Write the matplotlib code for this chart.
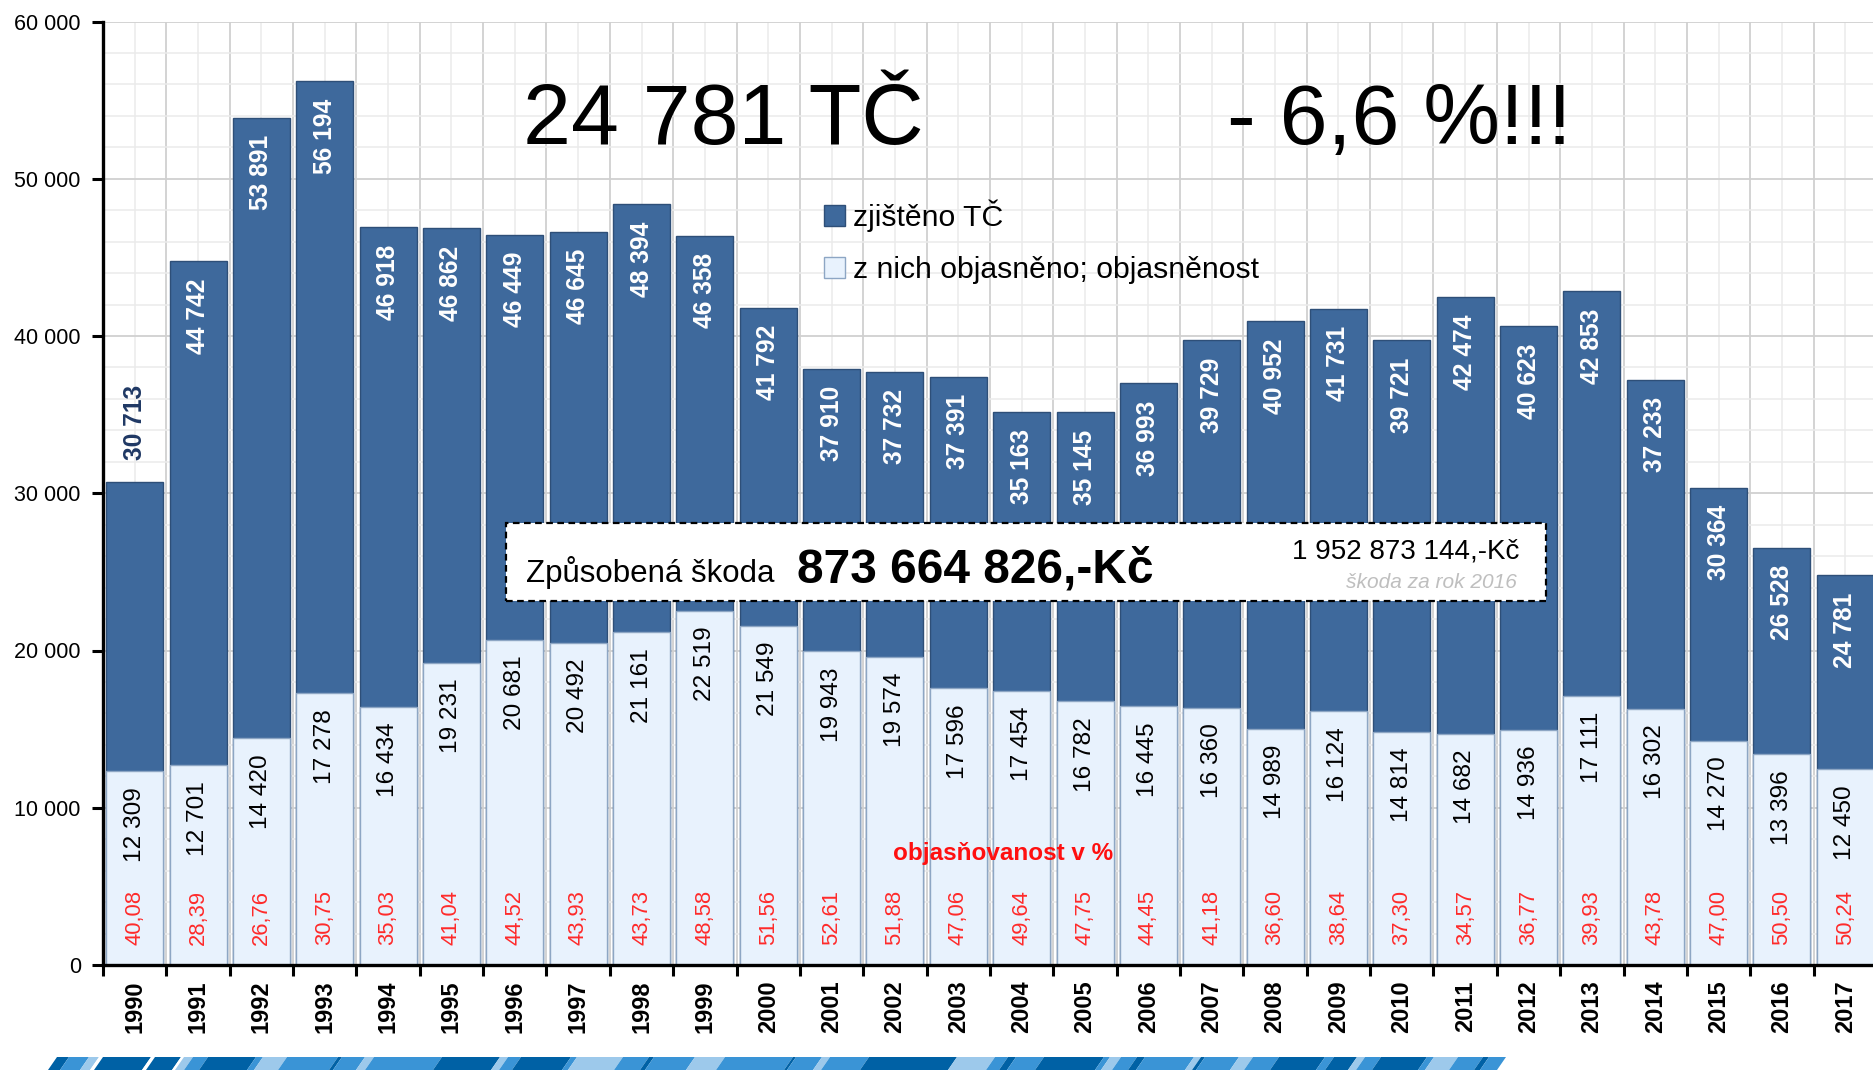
import matplotlib
matplotlib.use("Agg")
import matplotlib.pyplot as plt
from matplotlib.patches import Patch, Rectangle, Polygon
from matplotlib.ticker import MultipleLocator, FuncFormatter

# data
years = list(range(1990, 2018))
zjisteno = [30713, 44742, 53891, 56194, 46918, 46862, 46449, 46645, 48394, 46358,
            41792, 37910, 37732, 37391, 35163, 35145, 36993, 39729, 40952, 41731,
            39721, 42474, 40623, 42853, 37233, 30364, 26528, 24781]
objasneno = [12309, 12701, 14420, 17278, 16434, 19231, 20681, 20492, 21161, 22519,
             21549, 19943, 19574, 17596, 17454, 16782, 16445, 16360, 14989, 16124,
             14814, 14682, 14936, 17111, 16302, 14270, 13396, 12450]
objasnenost = ["40,08", "28,39", "26,76", "30,75", "35,03", "41,04", "44,52", "43,93",
               "43,73", "48,58", "51,56", "52,61", "51,88", "47,06", "49,64", "47,75",
               "44,45", "41,18", "36,60", "38,64", "37,30", "34,57", "36,77", "39,93",
               "43,78", "47,00", "50,50", "50,24"]

# decorative stripe at the bottom of the slide (left edge in px, colour key)
stripe_segments = [(48, 'd'), (60, 'm'), (80, 'l'), (90, 'w'), (94, 'd'), (142, 'w'), (146, 'd'),
                   (172, 'w'), (175, 'l'), (184, 'm'), (199, 'd'), (247, 'm'), (254, 'l'),
                   (278, 'm'), (329, 'd'), (333, 'm'), (356, 'l'), (365, 'm'), (433, 'd'),
                   (491, 'l'), (499, 'm'), (512, 'd'), (562, 'm'), (568, 'l'), (614, 'm'),
                   (640, 'd'), (645, 'm'), (686, 'l'), (716, 'm'), (784, 'd'), (787, 'm'),
                   (813, 'l'), (821, 'm'), (860, 'd'), (948, 'l'), (986, 'm'), (999, 'd'),
                   (1007, 'm'), (1035, 'd'), (1095, 'm'), (1101, 'l'), (1112, 'm'), (1128, 'd'),
                   (1136, 'm'), (1185, 'l'), (1192, 'd'), (1196, 'm'), (1230, 'l'), (1244, 'm'),
                   (1270, 'd'), (1316, 'm'), (1325, 'd'), (1348, 'l'), (1356, 'm'), (1372, 'd'),
                   (1418, 'm'), (1425, 'l'), (1449, 'm'), (1474, 'd'), (1480, 'm'), (1497, None)]
stripe_colors = {'d': '#0061A5', 'm': '#3A94D6', 'l': '#9DC9EB', 'w': 'white'}

dark = '#3E699C'
light = '#E8F2FD'
arial = ['Liberation Sans', 'DejaVu Sans']

W, H = 1873, 1070
fig = plt.figure(figsize=(W / 100, H / 100), dpi=100)
ax = fig.add_axes([103 / W, 1 - 965 / H, (1877 - 103) / W, (965 - 21.5) / H])

x = list(range(len(years)))
ax.bar(x, zjisteno, width=0.9, color=dark, edgecolor='#2E4F78', linewidth=1, zorder=2)
ax.bar(x, objasneno, width=0.9, color=light, edgecolor='#8DA6C4', linewidth=1, zorder=3)

for i in x:
    fmt_t = f"{zjisteno[i]:,}".replace(',', ' ')
    fmt_o = f"{objasneno[i]:,}".replace(',', ' ')
    if i == 0:
        ax.text(i, zjisteno[i] + 1400, fmt_t, rotation=90, ha='center', va='bottom',
                color='#1F3864', fontsize=17.7, fontweight='bold', family=arial, zorder=5)
    else:
        ax.text(i, zjisteno[i] - 1100, fmt_t, rotation=90, ha='center', va='top',
                color='white', fontsize=17.7, fontweight='bold', family=arial, zorder=5)
    ax.text(i, objasneno[i] - 1000, fmt_o, rotation=90, ha='center', va='top',
            color='black', fontsize=17.6, family=arial, zorder=5)
    ax.text(i, 1300, objasnenost[i], rotation=90, ha='center', va='bottom',
            color='#FF2A2A', fontsize=15.8, family=arial, zorder=5)

ax.text(13.7, 7063, 'objasňovanost v %', ha='center', va='center', color='#FF1010',
        fontsize=17.5, fontweight='bold', family=arial, zorder=5)

ax.set_xlim(-0.5, len(years) - 0.5)
ax.set_ylim(0, 60000)

ax.yaxis.set_major_locator(MultipleLocator(10000))
ax.yaxis.set_minor_locator(MultipleLocator(2000))
ax.yaxis.set_major_formatter(FuncFormatter(lambda v, p: f"{int(v):,}".replace(',', ' ')))
ax.set_xticks([k + 0.5 for k in range(-1, len(years))])
ax.set_xticklabels([])
ax.set_xticks(x, minor=True)
ax.set_xticklabels([str(y) for y in years], minor=True, rotation=90,
                   fontsize=17, fontweight='bold', family=arial)

ax.tick_params(axis='both', which='major', length=8, width=2.2, color='black')
ax.tick_params(axis='y', which='major', labelsize=15.5, pad=8)
ax.tick_params(axis='x', which='minor', length=0, pad=11)
ax.tick_params(axis='y', which='minor', length=0)
for lab in ax.get_yticklabels():
    lab.set_family(arial)

ax.grid(which='major', color='#D0D0D0', linewidth=1.3)
ax.grid(which='minor', color='#EBEBEB', linewidth=1.1)
ax.set_axisbelow(True)
for s in ['top', 'right']:
    ax.spines[s].set_visible(False)
for s in ['left', 'bottom']:
    ax.spines[s].set_linewidth(2.4)
    ax.spines[s].set_zorder(6)

handles = [Patch(facecolor=dark, edgecolor='#2E4F78', label='zjištěno TČ'),
           Patch(facecolor=light, edgecolor='#8DA6C4', label='z nich objasněno; objasněnost')]
fig.legend(handles=handles, loc='center left', bbox_to_anchor=(824 / W, 1 - 242 / H),
           frameon=False, prop={'family': arial, 'size': 21.7}, handlelength=0.7,
           handleheight=0.7, handletextpad=0.25, labelspacing=0.8, borderpad=0,
           borderaxespad=0)

# headline numbers
fig.text(723 / W, 1 - 122 / H, '24 781 TČ', ha='center', va='center', fontsize=62, family=arial)
fig.text(1399 / W, 1 - 122 / H, '- 6,6 %!!!', ha='center', va='center', fontsize=62, family=arial)

# damage box
box = Rectangle((506 / W, 1 - 601 / H), (1546 - 506) / W, 78 / H, transform=fig.transFigure,
                facecolor='white', edgecolor='black', linestyle=(0, (3, 2)), linewidth=1.6,
                zorder=10)
fig.add_artist(box)
fig.text(526 / W, 1 - 582 / H, 'Způsobená škoda', ha='left', va='baseline', fontsize=22.5,
         family=arial, zorder=11)
fig.text(797 / W, 1 - 582 / H, '873 664 826,-Kč', ha='left', va='baseline', fontsize=34.5,
         fontweight='bold', family=arial, zorder=11)
fig.text(1519 / W, 1 - 559 / H, '1 952 873 144,-Kč', ha='right', va='baseline', fontsize=20,
         family=arial, zorder=11)
fig.text(1517 / W, 1 - 588 / H, 'škoda za rok 2016', ha='right', va='baseline', fontsize=15,
         style='italic', color='#BFBFBF', family=arial, zorder=11)

# bottom stripe
skew = 9
y0, y1 = 0, 1 - 1057 / H
for (a, c), (b, _) in zip(stripe_segments[:-1], stripe_segments[1:]):
    pts = [(a / W, y0), (b / W, y0), ((b + skew) / W, y1), ((a + skew) / W, y1)]
    fig.add_artist(Polygon(pts, closed=True, transform=fig.transFigure,
                           facecolor=stripe_colors[c], edgecolor='none'))

fig.savefig('out.png', dpi=100)
